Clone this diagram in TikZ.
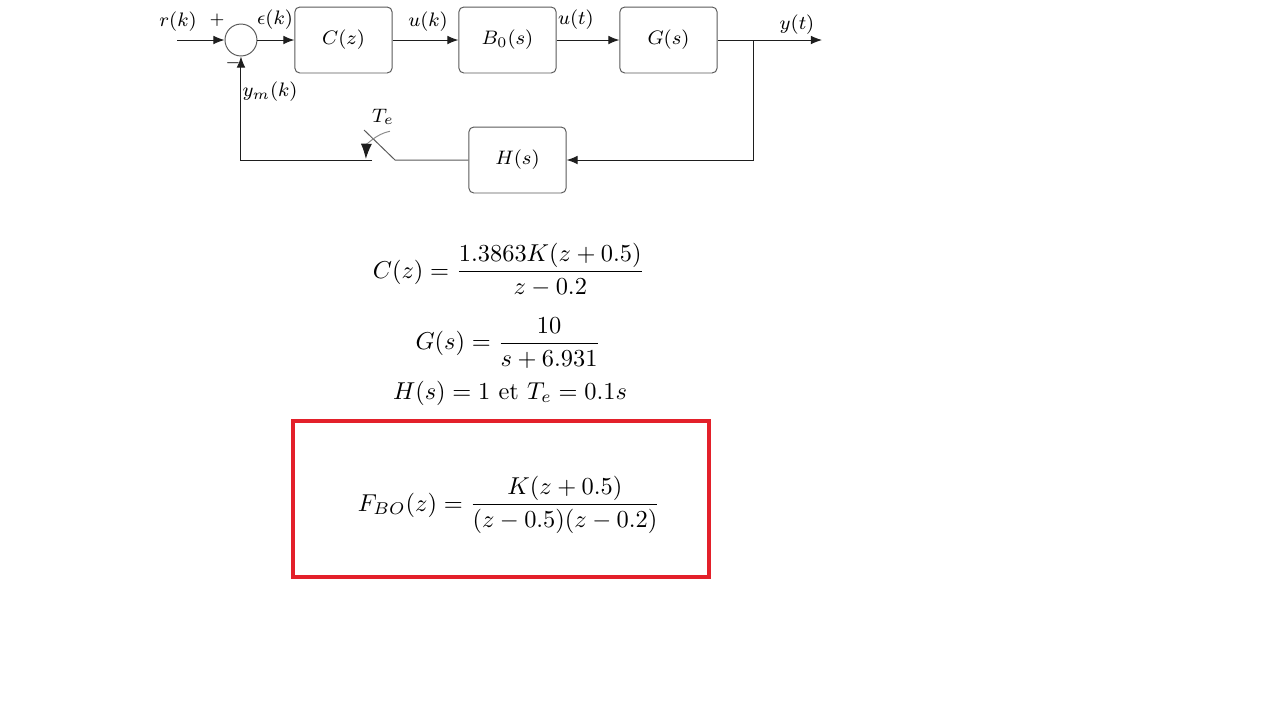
\documentclass[tikz,border=0pt]{standalone}
\usepackage{amsmath}
\usetikzlibrary{arrows.meta}
\definecolor{wire}{HTML}{1E1E1E}
\definecolor{frame}{HTML}{595959}
\definecolor{alert}{HTML}{E3202A}

\begin{document}
\begin{tikzpicture}[>={Latex[length=1.6mm,width=1.25mm]}, every node/.style={text=black},
  block/.style={draw=frame, rounded corners=2pt, minimum width=1.40cm, minimum height=0.95cm, inner sep=0pt, font=\footnotesize}]
  \useasboundingbox (0,0) rectangle (18.432,-10.368);

  % Forward path: comparator, controller, hold and plant on one line.
  \node[draw=frame, circle, minimum size=0.46cm, inner sep=0pt] (sum) at (3.470,-0.576) {};
  \node[block] (C) at (4.946,-0.576) {$C(z)$};
  \node[block] (B) at (7.308,-0.576) {$B_0(s)$};
  \node[block] (G) at (9.626,-0.576) {$G(s)$};
  \node[block] (H) at (7.452,-2.304) {$H(s)$};
  \coordinate (in) at (2.549,-0.576);
  \coordinate (out) at (11.837,-0.576);
  \coordinate (tap) at (10.843,-0.576);
  \draw[wire,->] (in) -- (sum);
  \draw[wire,->] (sum) -- (C);
  \draw[wire,->] (C) -- (B);
  \draw[wire,->] (B) -- (G);
  \draw[wire,->] (G) -- (out);

  % Feedback through the sensor and the sampler.
  \coordinate (swR) at (5.688,-2.304);
  \coordinate (swL) at (5.357,-2.304);
  \coordinate (blade) at (5.242,-1.872);
  \draw[wire,->] (tap) |- (H);
  \draw[frame] (H) -- (swR) -- (blade);
  \draw[wire,->] (swL) -| (sum);
  \draw[frame!70,-{Latex[length=2.2mm,width=1.6mm,color=wire]}] (swR) ++(100:0.42) arc[start angle=100, end angle=178, radius=0.42];

  \tikzset{signal/.style={font=\footnotesize}}
  \node[signal] (rk) at (2.563,-0.317) {$r(k)$};
  \node[signal,font=\scriptsize] (plus) at (3.125,-0.288) {$+$};
  \node[signal,font=\scriptsize] (minus) at (3.355,-0.907) {$-$};
  \node[signal] (ek) at (3.960,-0.288) {$\epsilon(k)$};
  \node[signal] (uk) at (6.163,-0.317) {$u(k)$};
  \node[signal] (ut) at (8.294,-0.288) {$u(t)$};
  \node[signal] (yt) at (11.477,-0.360) {$y(t)$};
  \node[signal] (ymk) at (3.888,-1.325) {$y_m(k)$};
  \node[signal] (Te) at (5.515,-1.685) {$T_e$};

  % Data of the loop, then the open-loop result in its frame.
  \node (eqC) at (7.325,-3.888) {$\displaystyle C(z)=\frac{1.3863K(z+0.5)}{z-0.2}$};
  \node (eqG) at (7.315,-4.939) {$\displaystyle G(s)=\frac{10}{s+6.931}$};
  \node (eqH) at (7.344,-5.659) {$H(s)=1$ et $T_e=0.1s$};
  \draw[alert, line width=1.7pt] (4.219,-6.062) rectangle (10.210,-8.309);
  \node (eqF) at (7.330,-7.272) {$\displaystyle F_{BO}(z)=\frac{K(z+0.5)}{(z-0.5)(z-0.2)}$};
\end{tikzpicture}
\end{document}
